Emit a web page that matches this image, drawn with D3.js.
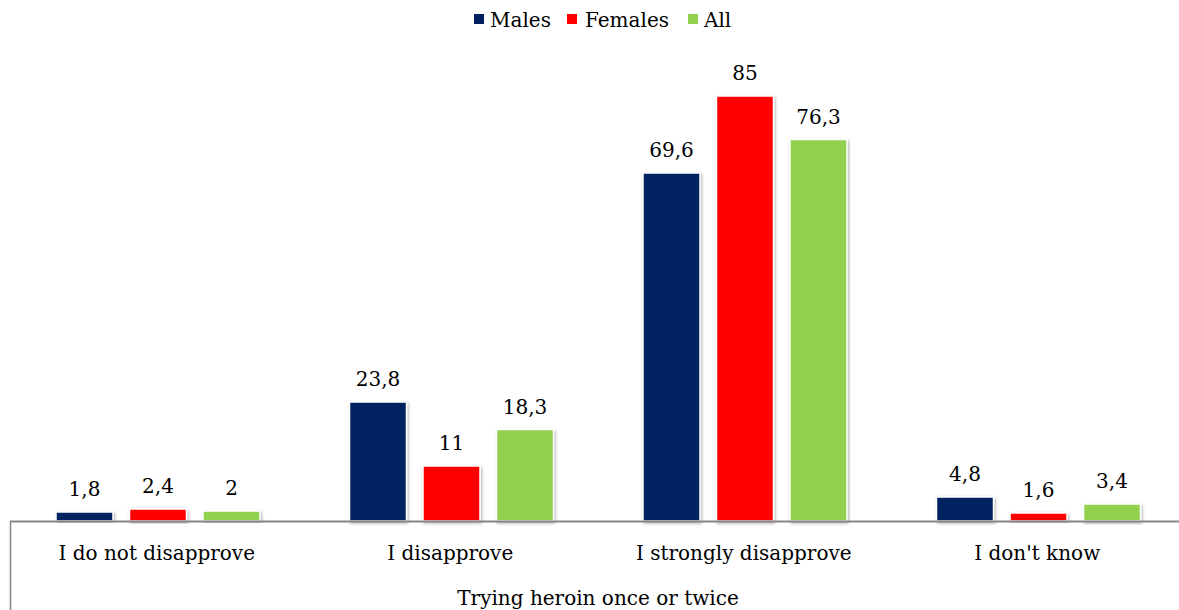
<!DOCTYPE html>
<html>
<head>
<meta charset="utf-8">
<script src="https://cdn.jsdelivr.net/npm/d3@7"></script>
<style>
  html, body { margin: 0; padding: 0; background: #fff; }
  svg { display: block; }
  text { font-family: "DejaVu Serif", "Liberation Serif", serif; fill: #000; }
</style>
</head>
<body>
<svg id="chart" width="1179" height="610"></svg>
<script>
// Attitudes towards trying heroin once or twice, by sex (%)
const categories = ["I do not disapprove", "I disapprove", "I strongly disapprove", "I don't know"];
const seriesNames = ["Males", "Females", "All"];
const males   = [1.8, 23.8, 69.6, 4.8];
const females = [2.4, 11, 85, 1.6];
const all     = [2, 18.3, 76.3, 3.4];
const seriesColors = ["#002060", "#FF0000", "#92D050"];
const axisTitle = "Trying heroin once or twice";

const values = [males, females, all];
const W = 1179, H = 610;
const FONT = "'DejaVu Serif', 'Liberation Serif', serif";
const FS = 20;
const svg = d3.select("#chart");

const defs = svg.append("defs");
const f = defs.append("filter").attr("id", "shadow")
  .attr("x", "-20%").attr("y", "-20%").attr("width", "140%").attr("height", "140%");
f.append("feDropShadow").attr("dx", 1).attr("dy", 1.5).attr("stdDeviation", 1.5)
  .attr("flood-color", "#000").attr("flood-opacity", 0.35);

const baseY = 521;
const x0 = d3.scaleBand().domain(categories).range([10, 1184]).paddingInner(0).paddingOuter(0);
// three bars per category, inset inside each band
const x1 = d3.scaleBand().domain(seriesNames).range([46, 250]).paddingInner(0.2245).paddingOuter(0);
const y = d3.scaleLinear().domain([0, 90]).range([baseY, 71]);

const fmt = v => String(v).replace(".", ",");

const rows = categories.map((c, i) => ({
  cat: c,
  items: seriesNames.map((s, j) => ({ s, v: values[j][i], color: seriesColors[j] }))
}));

const g = svg.append("g");
const groups = g.selectAll("g.cat").data(rows).join("g")
  .attr("class", "cat")
  .attr("transform", d => `translate(${x0(d.cat)},0)`);

groups.selectAll("rect").data(d => d.items).join("rect")
  .attr("x", d => x1(d.s))
  .attr("y", d => y(d.v))
  .attr("width", x1.bandwidth())
  .attr("height", d => baseY - y(d.v))
  .attr("fill", d => d.color)
  .attr("stroke", "#fff")
  .attr("stroke-width", 1.5)
  .attr("filter", "url(#shadow)");

groups.selectAll("text.val").data(d => d.items).join("text")
  .attr("class", "val")
  .attr("x", d => x1(d.s) + x1.bandwidth() / 2)
  .attr("y", d => y(d.v) - 16)
  .attr("text-anchor", "middle")
  .attr("font-size", FS)
  .text(d => fmt(d.v));

// category axis
const xAxis = d3.axisBottom(x0).tickSize(0).tickPadding(0);
const ax = svg.append("g").attr("transform", `translate(0,${baseY})`).call(xAxis);
ax.select(".domain").remove();
ax.selectAll("text")
  .attr("y", 39)
  .attr("dy", null)
  .attr("font-size", FS)
  .style("font-family", FONT)
  .attr("fill", "#000");

svg.append("line")
  .attr("x1", 10).attr("x2", W).attr("y1", baseY + 0.5).attr("y2", baseY + 0.5)
  .attr("stroke", "#868686").attr("stroke-width", 2);
svg.append("line")
  .attr("x1", 10.5).attr("x2", 10.5).attr("y1", baseY).attr("y2", H)
  .attr("stroke", "#868686").attr("stroke-width", 1.5);

svg.append("text")
  .attr("x", 598).attr("y", 605)
  .attr("text-anchor", "middle")
  .attr("font-size", FS)
  .text(axisTitle);

// legend
const legendItems = [
  { sx: 474, tx: 490 },
  { sx: 567, tx: 585 },
  { sx: 688, tx: 704 }
];
const lg = svg.append("g");
legendItems.forEach((d, i) => {
  lg.append("rect").attr("x", d.sx).attr("y", 14).attr("width", 10).attr("height", 10)
    .attr("fill", seriesColors[i]);
  lg.append("text").attr("x", d.tx).attr("y", 27).attr("font-size", FS).text(seriesNames[i]);
});
</script>
</body>
</html>
